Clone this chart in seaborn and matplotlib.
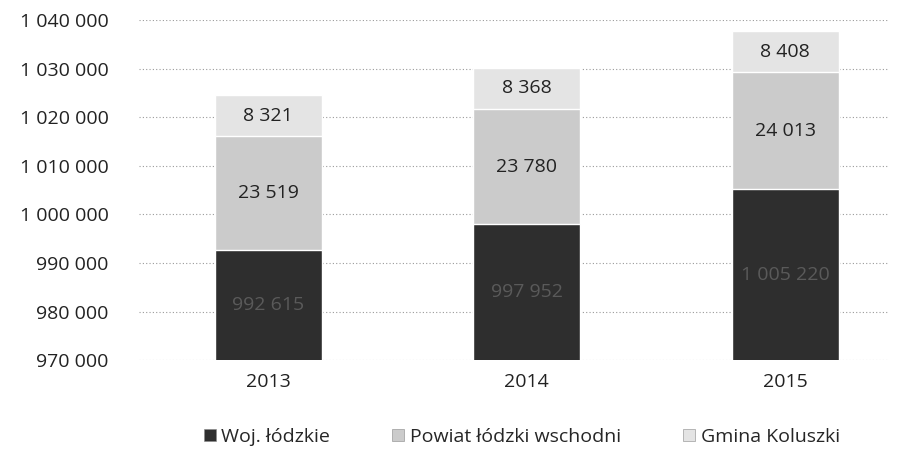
import matplotlib
matplotlib.use("Agg")
import matplotlib.pyplot as plt
import seaborn as sns
import pandas as pd
from matplotlib.ticker import FuncFormatter
from matplotlib.patches import Patch

years = ["2013", "2014", "2015"]
woj = [992615, 997952, 1005220]
powiat = [23519, 23780, 24013]
gmina = [8321, 8368, 8408]
series = ["Woj. łódzkie", "Powiat łódzki wschodni", "Gmina Koluszki"]
colors = ["#2e2e2e", "#cbcbcb", "#e4e4e4"]

df = pd.DataFrame({"rok": years, "woj": woj, "powiat": powiat, "gmina": gmina})
df["lvl1"] = df["woj"]
df["lvl2"] = df["woj"] + df["powiat"]
df["lvl3"] = df["lvl2"] + df["gmina"]

sns.set_style("white")
plt.rcParams["font.family"] = ["Open Sans", "DejaVu Sans"]

fig = plt.figure(figsize=(9.03, 4.53), dpi=100)
ax = fig.add_axes([0.154, 0.205, 0.83, 0.751])

# stacked: draw cumulative totals from the top down
for col, c in zip(["lvl3", "lvl2", "lvl1"], colors[::-1]):
    sns.barplot(data=df, x="rok", y=col, color=c, width=0.415, ax=ax,
                saturation=1, zorder=2)

ax.set_xlim(-0.5, 2.4)
ax.set_ylim(970000, 1040000)
ax.set_yticks(range(970000, 1040001, 10000))
ax.yaxis.set_major_formatter(FuncFormatter(lambda v, p: f"{v:,.0f}".replace(",", " ")))
ax.grid(axis="y", linestyle=(0, (1, 2)), color="#9a9a9a", linewidth=0.8, zorder=0)
ax.set_xlabel("")
ax.set_ylabel("")
for s in ax.spines.values():
    s.set_visible(False)
ax.tick_params(axis="both", length=0, labelsize=14, colors="#222222")
ax.tick_params(axis="x", pad=9)
ax.tick_params(axis="y", pad=22)

fmt = lambda v: f"{v:,.0f}".replace(",", " ")
for i in range(len(years)):
    y1 = (970000 + df["lvl1"][i]) / 2
    ax.text(i, y1, fmt(woj[i]), ha="center", va="center", fontsize=14,
            color="#5a5a5a", zorder=3)
    y2 = (df["lvl1"][i] + df["lvl2"][i]) / 2
    ax.text(i, y2, fmt(powiat[i]), ha="center", va="center", fontsize=14,
            color="#222222", zorder=3)
    y3 = (df["lvl2"][i] + df["lvl3"][i]) / 2
    ax.text(i, y3, fmt(gmina[i]), ha="center", va="center", fontsize=14,
            color="#222222", zorder=3)

handles = [Patch(facecolor=c, edgecolor="#888888", linewidth=0.4) for c in colors]
fig.legend(handles, series, loc="center", bbox_to_anchor=(0.578, 0.035), ncol=3,
           frameon=False, fontsize=14, handlelength=0.6, handleheight=0.6,
           handletextpad=0.3, columnspacing=3.2)

fig.savefig("out.png", dpi=100)
